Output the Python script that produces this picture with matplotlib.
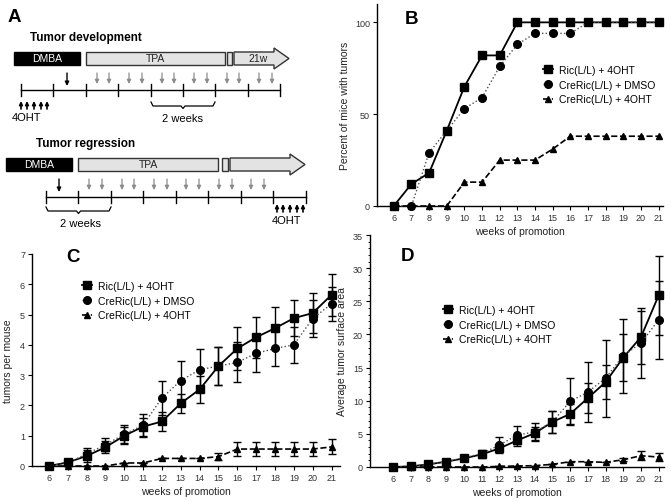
import matplotlib
matplotlib.use("Agg")
import matplotlib.pyplot as plt
from matplotlib.patches import Rectangle, Polygon
from matplotlib.ticker import MultipleLocator

plt.rcParams['font.family'] = ['Liberation Sans', 'DejaVu Sans']

weeks = [6, 7, 8, 9, 10, 11, 12, 13, 14, 15, 16, 17, 18, 19, 20, 21]
labels = ["Ric(L/L) + 4OHT", "CreRic(L/L) + DMSO", "CreRic(L/L) + 4OHT"]

# B: percent of mice with tumors
pct_ric = [0, 12, 18, 41, 65, 82, 82, 100, 100, 100, 100, 100, 100, 100, 100, 100]
pct_dmso = [0, 0, 29, 41, 53, 59, 76, 88, 94, 94, 94, 100, 100, 100, 100, 100]
pct_4oht = [0, 0, 0, 0, 13, 13, 25, 25, 25, 31, 38, 38, 38, 38, 38, 38]

# C: tumors per mouse (mean, error)
tpm_ric = [0, 0.12, 0.33, 0.62, 1.0, 1.3, 1.47, 2.07, 2.53, 3.3, 3.88, 4.25, 4.55, 4.88, 5.05, 5.65]
tpm_ric_err = [0, 0.05, 0.2, 0.2, 0.28, 0.3, 0.32, 0.32, 0.45, 0.63, 0.7, 0.67, 0.7, 0.6, 0.65, 0.7]
tpm_dmso = [0, 0.1, 0.4, 0.7, 1.05, 1.35, 2.25, 2.82, 3.18, 3.3, 3.42, 3.72, 3.88, 4.0, 4.87, 5.35]
tpm_dmso_err = [0, 0.05, 0.18, 0.22, 0.3, 0.38, 0.57, 0.65, 0.68, 0.63, 0.66, 0.6, 0.58, 0.6, 0.6, 0.55]
tpm_4oht = [0, 0, 0, 0, 0.1, 0.1, 0.25, 0.25, 0.25, 0.31, 0.56, 0.56, 0.56, 0.56, 0.56, 0.63]
tpm_4oht_err = [0, 0, 0, 0, 0, 0, 0, 0, 0, 0.12, 0.23, 0.23, 0.23, 0.23, 0.23, 0.25]

# D: average tumor surface area (mean, error)
area_ric = [0, 0.1, 0.4, 0.8, 1.3, 1.9, 2.8, 4.0, 5.1, 6.8, 8.0, 10.4, 12.8, 16.5, 19.6, 25.9]
area_ric_err = [0, 0.1, 0.2, 0.3, 0.4, 0.5, 0.5, 0.8, 1.0, 1.7, 1.5, 2.2, 2.6, 3.5, 4.0, 6.0]
area_dmso = [0, 0.1, 0.4, 0.8, 1.4, 2.0, 3.3, 4.8, 5.3, 6.8, 9.9, 11.3, 13.4, 16.8, 18.7, 22.2]
area_dmso_err = [0, 0.1, 0.2, 0.3, 0.4, 0.5, 1.2, 1.4, 1.4, 1.7, 3.6, 4.5, 5.8, 5.6, 5.3, 5.9]
area_4oht = [0, 0, 0, 0, 0, 0, 0.1, 0.15, 0.2, 0.4, 0.8, 0.8, 0.7, 1.1, 1.7, 1.5]
area_4oht_err = [0, 0, 0, 0, 0, 0, 0, 0, 0, 0, 0, 0, 0, 0.2, 0.7, 0.6]

W, H = 671, 502
fig = plt.figure(figsize=(W / 100, H / 100), dpi=100)


def px_axes(left, top, right, bottom):
    return fig.add_axes([left / W, 1 - bottom / H, (right - left) / W, (bottom - top) / H])


styles = [
    dict(marker='s', linestyle='-', lw=1.3, color='black', ms=5.5),
    dict(marker='o', linestyle=':', lw=1.0, color='0.3', ms=5.5, mfc='black', mec='black'),
    dict(marker='^', linestyle='--', lw=1.2, color='black', ms=5),
]


def style_axes(ax, xlim, ylim):
    ax.set_xlim(*xlim)
    ax.set_ylim(*ylim)
    for s in ['top', 'right']:
        ax.spines[s].set_visible(False)
    for s in ['left', 'bottom']:
        ax.spines[s].set_linewidth(1.0)
    ax.set_xticks(weeks)
    ax.tick_params(labelsize=6.5, length=3, width=0.8, pad=2, labelcolor='#333333')
    ax.set_xlabel("weeks of promotion", fontsize=7.5, labelpad=3, color='#222222')
    ax.patch.set_alpha(0)


def add_legend(ax, handles, x, y):
    ax.legend(handles=handles, labels=labels, loc='upper left',
              bbox_to_anchor=(x / W, 1 - y / H),
              bbox_transform=fig.transFigure, frameon=False, fontsize=7.5,
              handlelength=1.0, handletextpad=0.5, labelspacing=0.45,
              borderpad=0, borderaxespad=0)


# ---- panel B
axB = px_axes(377, 5, 663, 207)
hB = []
for ys, st in zip([pct_ric, pct_dmso, pct_4oht], styles):
    hB += axB.plot(weeks, ys, clip_on=False, zorder=3, **st)
style_axes(axB, (5.05, 21.25), (0, 110))
axB.set_yticks([0, 50, 100])
axB.set_ylabel("Percent of mice with tumors", fontsize=7.5, labelpad=4, color='#222222')
add_legend(axB, hB, 543, 66)

# ---- panel C
axC = px_axes(32, 255, 340, 467)
hC = []
for ys, es, st in zip([tpm_ric, tpm_dmso, tpm_4oht],
                      [tpm_ric_err, tpm_dmso_err, tpm_4oht_err], styles):
    c = axC.errorbar(weeks, ys, yerr=es, capsize=3, elinewidth=1.0,
                     ecolor='black', clip_on=False, zorder=3, **st)
    hC.append(c[0])
style_axes(axC, (5.1, 21.45), (0, 7))
axC.set_yticks(range(0, 8))
axC.set_ylabel("tumors per mouse", fontsize=7.5, labelpad=5, color='#222222')
add_legend(axC, hC, 82, 282)

# ---- panel D
axD = px_axes(370, 236, 664, 468)
hD = []
for ys, es, st in zip([area_ric, area_dmso, area_4oht],
                      [area_ric_err, area_dmso_err, area_4oht_err], styles):
    c = axD.errorbar(weeks, ys, yerr=es, capsize=3, elinewidth=1.0,
                     ecolor='black', clip_on=False, zorder=3, **st)
    hD.append(c[0])
style_axes(axD, (4.7, 21.3), (0, 35))
axD.set_yticks(range(0, 36, 5))
axD.yaxis.set_minor_locator(MultipleLocator(1))
axD.tick_params(axis='y', which='minor', length=1.5, width=0.6)
axD.set_ylabel("Average tumor surface area", fontsize=7.5, labelpad=4, color='#222222')
add_legend(axD, hD, 443, 306)

# ---- overlay in pixel coordinates for panel A and letters
ov = fig.add_axes([0, 0, 1, 1], zorder=-1)
ov.set_xlim(0, W)
ov.set_ylim(H, 0)
ov.axis('off')

for letter, (lx, ly) in zip("ABCD", [(14, 18), (412, 20), (73, 258), (407, 257)]):
    ov.text(lx, ly, letter, fontsize=13.5, fontweight='bold', ha='center', va='center')


def arrow(x, y0, y1, color, lw=1.0, ms=6):
    ov.annotate('', xy=(x, y1), xytext=(x, y0),
                arrowprops=dict(arrowstyle='-|>', color=color, lw=lw,
                                mutation_scale=ms, shrinkA=0, shrinkB=0))


def brace(x0, x1, y0, y1):
    xc = (x0 + x1) / 2
    ov.plot([x0, x0 + 2, xc - 2, xc, xc + 2, x1 - 2, x1],
            [y0, y1, y1, y1 + 2.5, y1, y1, y0], color='black', lw=0.9)


def scheme(top, title, title_x, dmba, tpa, gap, arr, down_x, grey_x, line, ticks,
           up_x, up_y, ohl_x, br, br_y, wk_x, label21=None):
    t0, t1 = top, top + 13
    ov.text(title_x, top - 15, title, fontsize=8.5, fontweight='bold', va='center')
    ov.add_patch(Rectangle((dmba[0], t0), dmba[1] - dmba[0], 13, fc='black', ec='black'))
    ov.text(sum(dmba) / 2, t0 + 6.5, "DMBA", color='white', fontsize=7.5, ha='center', va='center')
    ov.add_patch(Rectangle((tpa[0], t0), tpa[1] - tpa[0], 13, fc='#e3e3e3', ec='#333333', lw=1))
    ov.text(sum(tpa) / 2, t0 + 6.5, "TPA", fontsize=7.5, ha='center', va='center', color='#222222')
    ov.add_patch(Rectangle((gap[0], t0), gap[1] - gap[0], 13, fc='#e3e3e3', ec='#333333', lw=1))
    a0, a1 = arr
    ov.add_patch(Polygon([(a0, t0), (a1 - 15, t0), (a1 - 15, t0 - 4), (a1, t0 + 6.5),
                          (a1 - 15, t1 + 4), (a1 - 15, t1), (a0, t1)],
                         closed=True, fc='#e3e3e3', ec='#333333', lw=1))
    if label21:
        ov.text(a0 + 24, t0 + 6.5, label21, fontsize=7.5, ha='center', va='center', color='#222222')
    arrow(down_x, t1 + 8, t1 + 21, 'black', lw=1.0)
    for gx in grey_x:
        arrow(gx, t1 + 8, t1 + 19, '#8c8c8c', lw=0.9)
    ov.plot([ticks[0], ticks[-1]], [line, line], color='black', lw=1)
    for tx in ticks:
        ov.plot([tx, tx], [line - 6, line + 6], color='black', lw=1)
    for ux in up_x:
        arrow(ux, up_y + 8, up_y, 'black', lw=1.2, ms=5)
    ov.text(ohl_x, up_y + 16, "4OHT", fontsize=8, ha='center', va='center')
    brace(br[0], br[1], br_y, br_y + 4)
    ov.text(wk_x, br_y + 16, "2 weeks", fontsize=8, ha='center', va='center')


scheme(53, "Tumor development", 30, (14, 80), (86, 225), (227, 232), (234, 289), 67,
       [97, 109, 129, 142, 162, 174, 194, 207, 227, 239, 259, 272],
       91, [21, 53, 86, 118, 151, 183, 215, 248, 280],
       [21, 27, 34, 41, 47], 102, 27, (151, 215), 103, 183, label21="21w")
scheme(159, "Tumor regression", 36, (6, 72), (78, 218), (222, 228), (230, 305), 59,
       [89, 102, 122, 134, 154, 167, 186, 199, 219, 232, 251, 264],
       198, [46, 78, 111, 143, 176, 208, 241, 273, 306],
       [277, 283, 290, 297, 303], 205, 287, (46, 111), 208, 80)

fig.savefig("out.png", dpi=100)
